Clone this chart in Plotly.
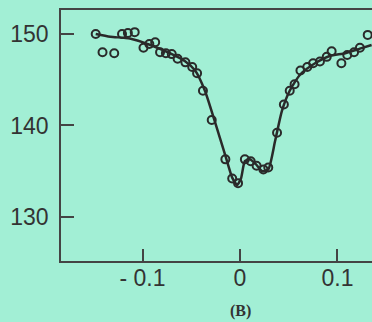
import plotly.graph_objects as go

# Measured data points (open circles)
x_pts = [-0.148, -0.141, -0.129, -0.121, -0.115, -0.108, -0.099, -0.093, -0.087, -0.082,
         -0.076, -0.070, -0.064, -0.056, -0.049, -0.044, -0.038, -0.029, -0.015, -0.008,
         -0.002, 0.005, 0.011, 0.017, 0.024, 0.029, 0.038, 0.045, 0.051, 0.056,
         0.062, 0.069, 0.075, 0.082, 0.089, 0.094, 0.104, 0.110, 0.117, 0.123, 0.131]
y_pts = [150.0, 148.0, 147.9, 150.0, 150.1, 150.2, 148.5, 148.9, 149.1, 148.0,
         147.9, 147.8, 147.3, 146.9, 146.4, 145.7, 143.8, 140.6, 136.3, 134.2,
         133.7, 136.3, 136.1, 135.6, 135.2, 135.4, 139.2, 142.3, 143.8, 144.5,
         146.0, 146.4, 146.8, 147.0, 147.5, 148.1, 146.8, 147.7, 148.0, 148.5, 149.9]

# Fitted curve
x_fit = [-0.148, -0.133, -0.113, -0.092, -0.072, -0.056, -0.046, -0.036, -0.026, -0.015,
         -0.008, -0.003, 0.001, 0.005, 0.010, 0.016, 0.023, 0.029, 0.036, 0.043,
         0.051, 0.062, 0.077, 0.092, 0.108, 0.123, 0.135]
y_fit = [150.0, 149.7, 149.5, 148.8, 147.9, 147.0, 146.0, 143.8, 140.5, 136.7,
         134.3, 133.5, 134.2, 136.1, 136.3, 135.8, 135.0, 135.2, 138.3, 141.6,
         143.8, 145.6, 146.8, 147.6, 147.9, 148.4, 148.8]

x_tickvals = [-0.1, 0, 0.1]
x_ticktext = ["- 0.1", "0", "0.1"]
y_tickvals = [130, 140, 150]

bg = "#A2EFD5"
ink = "#2a2a2a"

fig = go.Figure()
fig.add_trace(go.Scatter(x=x_fit, y=y_fit, mode="lines",
                         line=dict(color=ink, width=2.5, shape="spline", smoothing=0.6),
                         hoverinfo="skip"))
fig.add_trace(go.Scatter(x=x_pts, y=y_pts, mode="markers",
                         marker=dict(symbol="circle-open", size=8, color=ink,
                                     line=dict(width=2, color=ink))))

fig.update_layout(
    width=372, height=322,
    margin=dict(l=61, r=0, t=10, b=61),
    paper_bgcolor=bg, plot_bgcolor=bg,
    showlegend=False,
    font=dict(family="Liberation Sans, Arial, sans-serif", size=23, color="#333333"),
    xaxis=dict(range=[-0.1836, 0.1354], tickvals=x_tickvals, ticktext=x_ticktext,
               ticks="inside", ticklen=12, tickwidth=1.5, tickcolor="#444444",
               showline=True, linecolor="#444444", linewidth=1.5, mirror=True,
               showgrid=False, zeroline=False, ticklabelstandoff=-4),
    yaxis=dict(range=[125.19, 152.62], tickvals=y_tickvals,
               ticks="inside", ticklen=13, tickwidth=1.5, tickcolor="#444444",
               showline=True, linecolor="#444444", linewidth=1.5,
               showgrid=False, zeroline=False, ticklabelstandoff=6),
    annotations=[dict(text="<b>(B)</b>", x=0, xref="x", y=-0.2, yref="paper",
                      showarrow=False, xanchor="center", yanchor="middle",
                      font=dict(family="Liberation Serif, Times New Roman, serif",
                                size=16, color="#333333"))],
)

fig.write_html("out.html", config={"displayModeBar": False},
               post_script="document.body.style.margin='0';"
                           "document.body.style.background='" + bg + "';")
